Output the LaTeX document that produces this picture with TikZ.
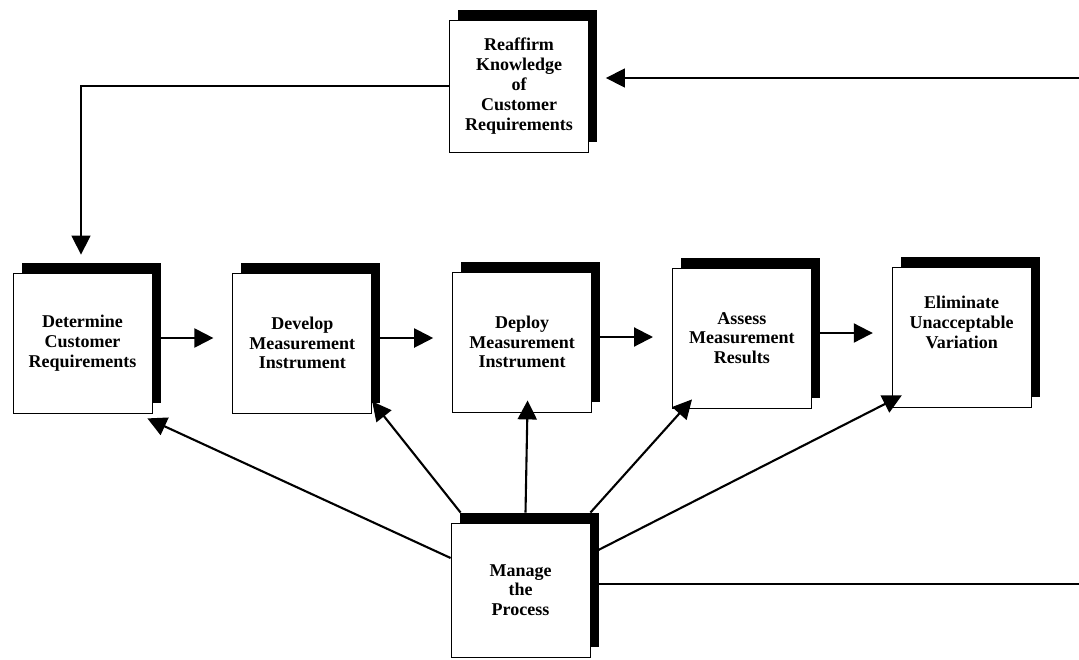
\documentclass[tikz,border=0pt]{standalone}
\usepackage{fontspec}
\setmainfont{Liberation Serif}
\usetikzlibrary{arrows.meta, calc, positioning, shadows}

\begin{document}
\begin{tikzpicture}[
    x=1pt, y=1pt,
    font=\bfseries\fontsize{18}{19.8}\selectfont,
    >={Triangle[length=19pt, width=19pt]},
    stage/.style={
        draw,
        rectangle,
        line width=0.8pt,
        minimum width=139pt,
        minimum height=140pt,
        inner sep=0pt,
        fill=white,
        align=center,
        drop shadow={shadow xshift=8.5pt, shadow yshift=10pt, fill=black, opacity=1}
    },
    flow/.style={
        line width=2.1pt
    },
    loop/.style={
        line width=1.4pt
    }
]

    \useasboundingbox (0,0) rectangle (1079,-659);

    % Top block
    \node [stage, minimum height=132pt] (reaffirm) at (519,-86) {Reaffirm\\Knowledge\\of\\Customer\\Requirements};

    % Main chain
    \node [stage] (determine) at (82.5,-343) {Determine\\Customer\\Requirements};
    \node [stage, right=80pt of determine] (develop) {Develop\\Measurement\\Instrument};
    \node [stage, right=80pt of develop, yshift=1pt] (deploy) {Deploy\\Measurement\\Instrument};
    \node [stage, right=80pt of deploy, yshift=4pt] (assess) {Assess\\Measurement\\Results};
    \node [stage, right=80pt of assess, yshift=1pt] (eliminate) {Eliminate\\Unacceptable\\Variation\\[10pt]};

    % Bottom block
    \node [stage, minimum height=134pt] (manage) at (520.5,-590) {Manage\\the\\Process};

    % Chain arrows
    \foreach \a/\b in {determine/develop, develop/deploy, deploy/assess, assess/eliminate} {
        \draw [flow, ->, shorten >=19pt] ([yshift=5pt]\a.east) -- ([yshift=5pt]\a.east -| \b.west);
    }

    % Feedback loop
    \coordinate (feedin) at (1079,-78);
    \coordinate (feedout) at (1079,-584);
    \draw [loop, ->, shorten >=17pt] (feedin) -- (feedin -| reaffirm.east);
    \draw [loop, ->] (reaffirm.west) -| ($(determine.north)+(-1.5,18)$);
    \draw [loop] (manage.east |- feedout) -- (feedout);

    % Management arrows
    \draw [flow, ->] ($(manage.west)+(0,32)$) -- ($(determine.south east)+(-5,-5)$);
    \draw [flow, ->] ($(manage.north west)+(10,10)$) -- ($(develop.south east)+(0,12)$);
    \draw [flow, ->] ($(manage.north)+(5,10)$) -- ($(deploy.south)+(5.5,12)$);
    \draw [flow, ->] ($(manage.north east)+(0,10)$) -- ($(assess.south west)+(20,9)$);
    \draw [flow, ->] ($(manage.east)+(8,40)$) -- ($(eliminate.south west)+(10,12)$);

\end{tikzpicture}
\end{document}
